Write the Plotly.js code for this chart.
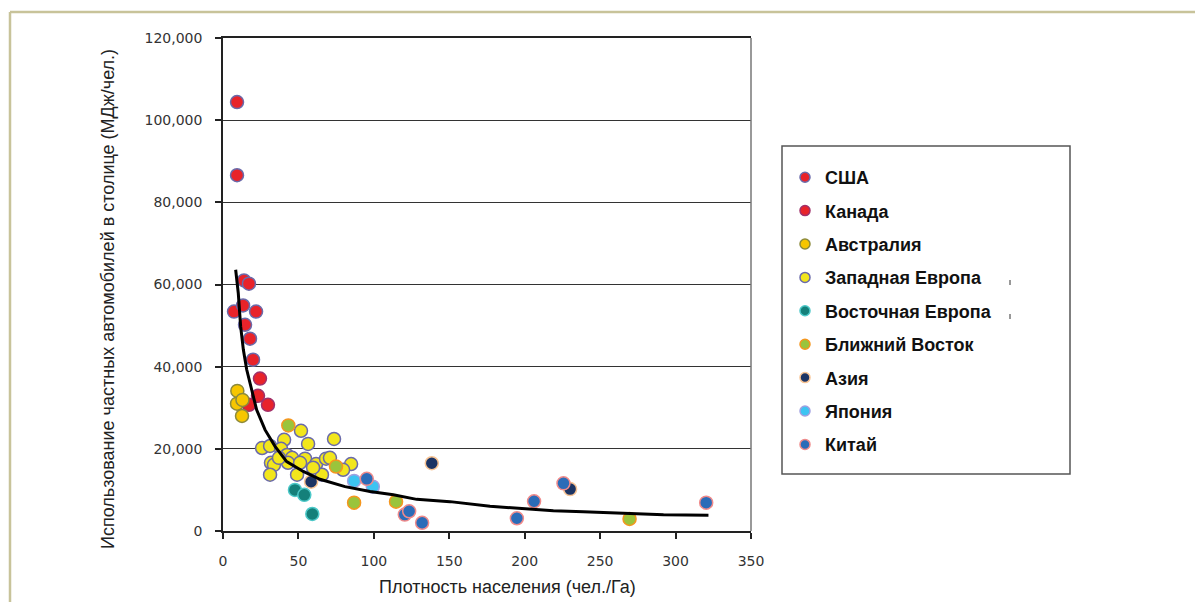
<!DOCTYPE html>
<html>
<head>
<meta charset="utf-8">
<script src="https://cdn.plot.ly/plotly-3.0.1.min.js"></script>
<style>
  html, body { margin: 0; padding: 0; background: #ffffff; }
  #chart { width: 1195px; height: 602px; }
</style>
</head>
<body>
<div id="chart"></div>
<script>
// ---- Data ----
const seriesNames = ["США", "Канада", "Австралия", "Западная Европа", "Восточная Европа",
                     "Ближний Восток", "Азия", "Япония", "Китай"];

const usaX = [9.3, 9.3, 13.9, 17.2, 7.3, 13.3, 21.9, 14.6, 17.9, 19.9];
const usaY = [104400, 86600, 61000, 60200, 53400, 54900, 53400, 50200, 46800, 41700];

const canadaX = [24.5, 23.2, 17.2, 29.8];
const canadaY = [37100, 32900, 30700, 30700];

const australiaX = [9.5, 9.3, 12.9, 12.6];
const australiaY = [34100, 31000, 31900, 28000];

const westEuropeX = [51.7, 40.5, 56.4, 73.6, 25.9, 31.2, 38.5, 42.4, 45.8, 54.4, 31.8, 33.8,
                     43.1, 51.1, 61.7, 68.3, 84.9, 79.6, 70.9, 31.2, 49.1, 65.6, 59.7, 37.1];
const westEuropeY = [24400, 22200, 21200, 22400, 20200, 20700, 20000, 18500, 17800, 17600, 16600, 16100,
                     16600, 16600, 16300, 17600, 16300, 14900, 17800, 13700, 13700, 13700, 15400, 17800];

const eastEuropeX = [47.7, 53.9, 59.2];
const eastEuropeY = [10000, 8800, 4150];

const middleEastX = [43.3, 74.9, 86.9, 114.7, 269.5];
const middleEastY = [25700, 15700, 6900, 7150, 2930];

const asiaX = [58.4, 138.4, 230.1];
const asiaY = [12000, 16500, 10200];

const japanX = [86.9, 99.3];
const japanY = [12200, 10800];

const chinaX = [95.3, 120.5, 123.4, 132.0, 194.8, 206.2, 225.7, 320.3];
const chinaY = [12700, 4000, 4800, 2000, 3100, 7240, 11600, 6900];

const trendX = [8.4, 10.1, 11.7, 13.5, 15.7, 19.0, 22.3, 27.9, 34.5, 42.2, 53.2, 64.3, 80.9,
                97.5, 112.9, 128.4, 150.5, 177.0, 199.1, 219.0, 238.9, 263.3, 292.0, 321.8];
const trendY = [63600, 58000, 49800, 44100, 39300, 34400, 29500, 24600, 20600, 16900, 14500, 12600, 10800,
                9600, 8800, 7700, 7150, 6000, 5400, 4950, 4700, 4300, 3950, 3850];

const xTickVals = [0, 50, 100, 150, 200, 250, 300, 350];
const yTickVals = [0, 20000, 40000, 60000, 80000, 100000, 120000];

const xTitle = "Плотность населения (чел./Га)";
const yTitle = "Использование частных автомобилей в столице (МДж/чел.)";

// ---- Styles ----
const fills   = ["#e8232a", "#e8232a", "#f7c600", "#f2e61c", "#14807a", "#9ac43c", "#1c3464", "#3cc4f2", "#2b6cb8"];
const borders = ["#6a6aaa", "#a0306a", "#8c8a3c", "#6a6aaa", "#4cc8c8", "#f5961e", "#f8c494", "#a0a0e0", "#f08a8a"];

const xs = [usaX, canadaX, australiaX, westEuropeX, eastEuropeX, middleEastX, asiaX, japanX, chinaX];
const ys = [usaY, canadaY, australiaY, westEuropeY, eastEuropeY, middleEastY, asiaY, japanY, chinaY];

const traces = [];
seriesNames.forEach((name, i) => {
  traces.push({
    type: "scatter",
    mode: "markers",
    name: name,
    legendgroup: "g" + i,
    showlegend: false,
    x: xs[i],
    y: ys[i],
    marker: { size: 13, color: fills[i], line: { color: borders[i], width: 1.5 } },
    hoverinfo: "x+y+name"
  });
});
// legend entries (smaller symbols, as in the reference legend)
seriesNames.forEach((name, i) => {
  traces.push({
    type: "scatter",
    mode: "markers",
    name: name,
    legendgroup: "g" + i,
    showlegend: true,
    x: [null],
    y: [null],
    marker: { size: 10, color: fills[i], line: { color: borders[i], width: 1.5 } },
    hoverinfo: "skip"
  });
});

traces.push({
  type: "scatter",
  mode: "lines",
  x: trendX,
  y: trendY,
  line: { color: "#000000", width: 3 },
  showlegend: false,
  hoverinfo: "skip"
});

// pixel helpers for paper coordinates (plot area 223..751 x, 38..531 y)
const L = 223, R = 751, T = 38, B = 531;
const px = v => (v - L) / (R - L);
const py = v => (B - v) / (B - T);

const titleFont = { family: "Liberation Sans, Arial, sans-serif", size: 18, color: "#222222" };
const tickFont = { family: "DejaVu Sans, sans-serif", size: 14, color: "#333333" };

const layout = {
  width: 1195,
  height: 602,
  margin: { l: L, r: 1195 - R, t: T, b: 602 - B, pad: 0 },
  paper_bgcolor: "#ffffff",
  plot_bgcolor: "#ffffff",
  showlegend: true,
  legend: {
    x: px(785), y: py(159), xanchor: "left", yanchor: "top",
    bgcolor: "rgba(0,0,0,0)",
    borderwidth: 0,
    tracegroupgap: 7,
    font: { family: "Liberation Sans, Arial, sans-serif", size: 18, color: "#111111", weight: "bold" }
  },
  xaxis: {
    range: [0, 350],
    tickmode: "array",
    tickvals: xTickVals,
    ticktext: xTickVals.map(v => String(v)),
    ticks: "outside",
    ticklen: 6,
    tickwidth: 1.5,
    tickcolor: "#222222",
    ticklabelstandoff: 10,
    showgrid: false,
    zeroline: false,
    showline: true,
    linecolor: "#222222",
    linewidth: 1.5,
    mirror: true,
    tickfont: tickFont
  },
  yaxis: {
    range: [0, 120000],
    tickmode: "array",
    tickvals: yTickVals,
    tickformat: ",d",
    ticks: "outside",
    ticklen: 6,
    tickwidth: 1.5,
    tickcolor: "#222222",
    ticklabelstandoff: 10,
    showgrid: true,
    gridcolor: "#333333",
    gridwidth: 1.2,
    zeroline: false,
    showline: true,
    linecolor: "#222222",
    linewidth: 1.5,
    mirror: false,
    tickfont: tickFont
  },
  annotations: [
    { text: xTitle, xref: "paper", yref: "paper", x: px(507), y: py(587), xanchor: "center", yanchor: "middle",
      showarrow: false, font: titleFont },
    { text: yTitle, xref: "paper", yref: "paper", x: px(108), y: py(299), xanchor: "center", yanchor: "middle",
      textangle: -90, showarrow: false, font: titleFont }
  ],
  shapes: [
    // right border of plot area
    { type: "line", xref: "paper", yref: "paper", x0: 1, x1: 1, y0: 0, y1: 1, line: { color: "#777777", width: 1.5 } },
    // legend box
    { type: "rect", xref: "paper", yref: "paper", x0: px(782), x1: px(1070), y0: py(146), y1: py(474),
      line: { color: "#555555", width: 1.5 }, fillcolor: "rgba(0,0,0,0)" },
    // small marks beside the legend
    { type: "line", xref: "paper", yref: "paper", x0: px(1010), x1: px(1010), y0: py(280), y1: py(285), line: { color: "#333333", width: 1 } },
    { type: "line", xref: "paper", yref: "paper", x0: px(1010), x1: px(1010), y0: py(314), y1: py(319), line: { color: "#333333", width: 1 } },
    // outer frame (left and top)
    { type: "line", xref: "paper", yref: "paper", x0: px(10), x1: px(10), y0: py(12), y1: py(640), line: { color: "#c8c39a", width: 2.5 } },
    { type: "line", xref: "paper", yref: "paper", x0: px(10), x1: px(1200), y0: py(12), y1: py(12), line: { color: "#c8c39a", width: 2.5 } }
  ]
};

Plotly.newPlot("chart", traces, layout, { displayModeBar: false, responsive: false });
</script>
</body>
</html>
